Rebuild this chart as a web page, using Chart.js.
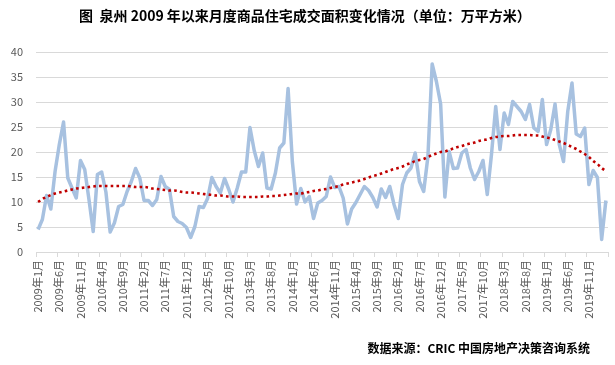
<!DOCTYPE html>
<html>
<head>
<meta charset="utf-8">
<script src="https://cdn.jsdelivr.net/npm/chart.js@4.4.1/dist/chart.umd.min.js"></script>
<style>
  html, body { margin: 0; padding: 0; background: #ffffff; }
  #wrap { position: relative; width: 615px; height: 365px; overflow: hidden; }
  #title { position: absolute; left: 0; top: 5px; width: 610px; text-align: center;
    font-family: "Noto Sans CJK SC", sans-serif; font-weight: bold; font-size: 14px; color: #000; white-space: nowrap; }
  #source { position: absolute; right: 25px; top: 339px; text-align: right;
    font-family: "Noto Sans CJK SC", sans-serif; font-weight: bold; font-size: 12px; color: #000; white-space: nowrap; }
  canvas { position: absolute; left: 0; top: 0; }
</style>
</head>
<body>
<div id="wrap">
  <canvas id="c" width="615" height="365"></canvas>
  <div id="title">图&nbsp;&nbsp;泉州 2009 年以来月度商品住宅成交面积变化情况（单位：万平方米）</div>
  <div id="source">数据来源：CRIC 中国房地产决策咨询系统</div>
</div>
<script>
// Categories: months from 2009年1月 to 2020年3月
const startYear = 2009;
const monthCount = 135;
const categories = [];
for (let k = 0; k < monthCount; k++) {
  const y = startYear + Math.floor(k / 12);
  const m = (k % 12) + 1;
  categories.push(y + '年' + m + '月');
}

// Monthly transaction area (万平方米)
const areaValues = [
  4.5, 6.5, 11.3, 8.6, 16.1, 21.5, 26.0, 14.8, 12.8, 10.8,
  18.3, 16.5, 10.5, 4.1, 15.5, 16.0, 12.0, 4.0, 5.8, 9.1,
  9.5, 12.1, 14.1, 16.7, 14.8, 10.3, 10.3, 9.3, 10.5, 15.1,
  13.1, 12.5, 7.1, 6.1, 5.7, 4.9, 2.9, 5.1, 9.1, 8.9,
  10.7, 14.9, 13.1, 11.8, 14.7, 12.5, 10.0, 12.8, 16.0, 16.0,
  24.9, 20.3, 17.1, 19.8, 12.8, 12.6, 15.8, 20.8, 21.8, 32.7,
  18.1, 9.6, 12.7, 10.0, 11.1, 6.7, 9.8, 10.3, 11.1, 15.0,
  12.9, 13.1, 10.8, 5.6, 8.6, 9.9, 11.5, 13.1, 12.3, 10.9,
  9.0, 12.6, 10.9, 13.1, 9.5, 6.7, 13.5, 15.8, 16.8, 19.8,
  14.1, 12.1, 19.1, 37.6, 34.1, 29.6, 11.0, 20.1, 16.7, 16.8,
  19.8, 20.5, 16.8, 14.5, 16.1, 18.3, 11.5, 19.5, 29.1, 20.5,
  27.8, 25.5, 30.1, 29.1, 28.1, 26.5, 29.5, 24.8, 24.1, 30.5,
  21.5, 24.5, 29.6, 21.5, 18.1, 28.1, 33.8, 23.6, 23.1, 24.8,
  13.5, 16.3, 14.9, 2.5, 10.3
];

// Trend line values
const trendValues = [
  10.0, 10.6, 11.0, 11.4, 11.7, 11.9, 12.1, 12.3, 12.5, 12.7,
  12.8, 12.9, 13.0, 13.1, 13.2, 13.2, 13.2, 13.2, 13.2, 13.2,
  13.2, 13.2, 13.1, 13.0, 13.0, 13.0, 12.9, 12.7, 12.6, 12.5,
  12.4, 12.3, 12.3, 12.2, 12.0, 11.9, 11.9, 11.8, 11.7, 11.6,
  11.5, 11.4, 11.3, 11.3, 11.2, 11.1, 11.1, 11.1, 11.0, 11.0,
  11.0, 11.0, 11.0, 11.1, 11.1, 11.2, 11.2, 11.3, 11.4, 11.5,
  11.6, 11.7, 11.7, 11.9, 12.0, 12.2, 12.3, 12.5, 12.6, 12.8,
  13.0, 13.2, 13.5, 13.7, 13.9, 14.1, 14.3, 14.6, 14.9, 15.2,
  15.4, 15.7, 16.0, 16.3, 16.6, 16.8, 17.1, 17.5, 17.8, 18.2,
  18.4, 18.6, 19.0, 19.4, 19.7, 20.0, 20.1, 20.4, 20.7, 21.0,
  21.2, 21.5, 21.7, 21.9, 22.2, 22.4, 22.5, 22.8, 23.0, 23.1,
  23.2, 23.2, 23.3, 23.4, 23.4, 23.4, 23.4, 23.3, 23.3, 23.1,
  22.9, 22.7, 22.4, 22.1, 21.8, 21.4, 21.0, 20.6, 20.1, 19.6,
  19.0, 18.2, 17.6, 16.8, 16.2
];

const yTicks = [0, 5, 10, 15, 20, 25, 30, 35, 40];
const labelStep = 5;

const gridGray = '#d9d9d9';
const labelGray = '#595959';

new Chart(document.getElementById('c'), {
  type: 'line',
  data: {
    labels: categories,
    datasets: [
      {
        label: '成交面积',
        data: areaValues,
        borderColor: '#a7c1e0',
        borderWidth: 3.5,
        pointRadius: 0,
        tension: 0,
        fill: false,
        borderJoinStyle: 'round',
        order: 2
      },
      {
        label: '趋势',
        data: trendValues,
        borderColor: '#c00000',
        borderWidth: 2.6,
        borderDash: [2.6, 3.2],
        borderCapStyle: 'butt',
        pointRadius: 0,
        tension: 0.4,
        cubicInterpolationMode: 'monotone',
        fill: false,
        order: 1
      }
    ]
  },
  options: {
    responsive: false,
    animation: false,
    devicePixelRatio: 1,
    layout: { padding: { left: 0, right: 7, top: 52, bottom: 0 } },
    plugins: { legend: { display: false }, tooltip: { enabled: false }, title: { display: false } },
    scales: {
      x: {
        type: 'category',
        offset: true,
        border: { display: true, color: gridGray, width: 1 },
        grid: {
          offset: true,
          drawOnChartArea: false,
          drawTicks: true,
          tickLength: 5,
          color: (ctx) => (ctx.type !== 'tick' || ctx.index % labelStep === 0) ? gridGray : 'rgba(0,0,0,0)'
        },
        ticks: {
          autoSkip: false,
          maxRotation: 90,
          minRotation: 90,
          padding: 3,
          color: labelGray,
          font: { family: '"Noto Sans CJK SC", sans-serif', size: 11 },
          callback: function (val, idx) { return idx % labelStep === 0 ? categories[idx] : ''; }
        },
        afterFit: (scale) => { scale.height = 113; scale.paddingLeft = 0; scale.paddingRight = 0; }
      },
      y: {
        min: 0,
        max: 40,
        afterBuildTicks: (scale) => { scale.ticks = yTicks.map(v => ({ value: v })); },
        border: { display: false },
        grid: { color: gridGray, lineWidth: 1, drawTicks: false },
        ticks: {
          padding: 13,
          color: labelGray,
          font: { family: '"Noto Sans CJK SC", sans-serif', size: 11 }
        },
        afterFit: (scale) => { scale.width = 36; scale.paddingTop = 0; scale.paddingBottom = 0; }
      }
    }
  }
});
</script>
</body>
</html>
